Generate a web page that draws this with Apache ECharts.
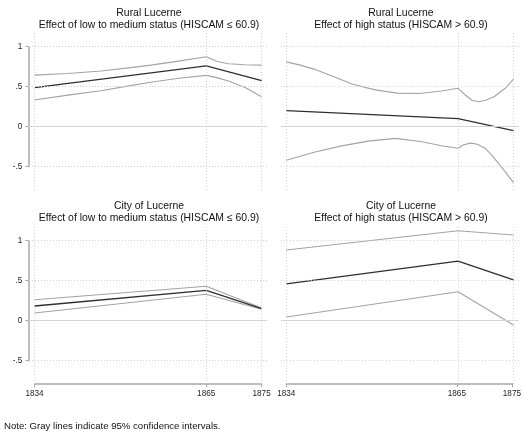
<!DOCTYPE html>
<html>
<head>
<meta charset="utf-8">
<script src="https://cdn.jsdelivr.net/npm/echarts@6/dist/echarts.min.js"></script>
<style>
  html, body { margin: 0; padding: 0; background: #fff; }
  #chart { width: 524px; height: 437px; }
</style>
</head>
<body>
<div id="chart"></div>
<script>
// year ticks shared by all panels
var xTicks = [1834, 1865, 1875];
var yTicks = [-0.5, 0, 0.5, 1];

// Rural Lucerne, low to medium status
var ruralLowEst = [[1834, 0.488], [1865, 0.759], [1875, 0.575]];
var ruralLowUpper = [[1834, 0.645], [1840, 0.665], [1846, 0.697], [1851, 0.735], [1855, 0.77], [1860, 0.82], [1865, 0.875], [1867, 0.815], [1869, 0.787], [1872, 0.774], [1875, 0.77]];
var ruralLowLower = [[1834, 0.334], [1840, 0.395], [1846, 0.45], [1851, 0.51], [1855, 0.555], [1860, 0.605], [1865, 0.642], [1867, 0.61], [1869, 0.572], [1872, 0.49], [1875, 0.375]];

// Rural Lucerne, high status
var ruralHighEst = [[1834, 0.2], [1865, 0.1], [1875, -0.05]];
var ruralHighUpper = [[1834, 0.81], [1836.5, 0.77], [1839, 0.72], [1842, 0.64], [1846, 0.53], [1850, 0.46], [1854, 0.42], [1858, 0.415], [1862, 0.446], [1865, 0.48], [1866.3, 0.396], [1867.5, 0.33], [1868.7, 0.312], [1870, 0.33], [1871.5, 0.375], [1873.5, 0.48], [1875, 0.595]];
var ruralHighLower = [[1834, -0.42], [1839, -0.32], [1844, -0.24], [1848.8, -0.18], [1853.7, -0.146], [1858.5, -0.188], [1862, -0.238], [1865, -0.27], [1866, -0.225], [1867.3, -0.205], [1868.5, -0.22], [1869.9, -0.27], [1871, -0.35], [1872.3, -0.458], [1873.7, -0.58], [1875, -0.7]];

// City of Lucerne, low to medium status
var cityLowEst = [[1834, 0.184], [1865, 0.38], [1875, 0.152]];
var cityLowUpper = [[1834, 0.2625], [1865, 0.43], [1875, 0.16]];
var cityLowLower = [[1834, 0.096], [1865, 0.33], [1875, 0.143]];

// City of Lucerne, high status
var cityHighEst = [[1834, 0.459], [1865, 0.746], [1875, 0.509]];
var cityHighUpper = [[1834, 0.884], [1865, 1.125], [1875, 1.071]];
var cityHighLower = [[1834, 0.046], [1865, 0.3625], [1875, -0.054]];

var titles = [
  'Rural Lucerne\nEffect of low to medium status (HISCAM \u2264 60.9)',
  'Rural Lucerne\nEffect of high status (HISCAM > 60.9)',
  'City of Lucerne\nEffect of low to medium status (HISCAM \u2264 60.9)',
  'City of Lucerne\nEffect of high status (HISCAM > 60.9)'
];
var note = 'Note: Gray lines indicate 95% confidence intervals.';

var font = 'Liberation Sans, Arial, sans-serif';
var ciColor = '#a3a3a3';
var estColor = '#2e2e2e';
var axisColor = '#a8a8a8';

// plot regions (px)
var grids = [
  { left: 29, right: 256.8, top: 33.1, bottom: 247.1 },
  { left: 280.8, right: 5, top: 33.1, bottom: 247.1 },
  { left: 29, right: 256.8, top: 227.1, bottom: 53.1 },
  { left: 280.8, right: 5, top: 227.1, bottom: 53.1 }
];
var panels = [
  [ruralLowEst, ruralLowUpper, ruralLowLower],
  [ruralHighEst, ruralHighUpper, ruralHighLower],
  [cityLowEst, cityLowUpper, cityLowLower],
  [cityHighEst, cityHighUpper, cityHighLower]
];
var titleX = [149, 401, 149, 401];
var titleY = [7.5, 7.5, 200, 200];

var xAxes = [], yAxes = [], series = [], titleList = [];

grids.forEach(function (g, i) {
  xAxes.push({ gridIndex: i, type: 'value', min: 1833, max: 1876, show: false });
  yAxes.push({ gridIndex: i, type: 'value', min: -0.79, max: 1.17, show: false });

  var gridLines = xTicks.map(function (x) { return { xAxis: x }; });
  yTicks.forEach(function (y) {
    if (y === 0) gridLines.push({ yAxis: y, lineStyle: { type: 'solid', color: '#d4d4d4' } });
    else gridLines.push({ yAxis: y });
  });

  series.push({
    type: 'line', xAxisIndex: i, yAxisIndex: i, data: [], silent: true, z: 1,
    markLine: {
      silent: true, symbol: 'none', animation: false,
      label: { show: false },
      lineStyle: { color: '#cfcfcf', type: [1, 2], width: 1 },
      data: gridLines
    }
  });

  var p = panels[i];
  [p[1], p[2]].forEach(function (d) {
    series.push({
      type: 'line', xAxisIndex: i, yAxisIndex: i, data: d, z: 2,
      showSymbol: false, silent: true, animation: false,
      lineStyle: { color: ciColor, width: 1.1 }
    });
  });
  series.push({
    type: 'line', xAxisIndex: i, yAxisIndex: i, data: p[0], z: 3,
    showSymbol: false, silent: true, animation: false,
    lineStyle: { color: estColor, width: 1.3 }
  });

  titleList.push({
    text: titles[i], left: titleX[i], top: titleY[i], textAlign: 'center', padding: 0,
    textStyle: { fontFamily: font, fontSize: 10.4, fontWeight: 'normal', color: '#111', lineHeight: 12 }
  });
});

titleList.push({
  text: note, left: 4, top: 421, padding: 0,
  textStyle: { fontFamily: font, fontSize: 9.6, fontWeight: 'normal', color: '#111' }
});

// y axes on the left column (line only spans the tick range)
var yLabel = function (v) { return v === 0 ? '0' : String(v).replace('0.', '.'); };
[[46.7, 270.3], [240.7, 76.3]].forEach(function (tb) {
  var gi = grids.length;
  grids.push({ left: 28.3, width: 1, top: tb[0], bottom: tb[1] });
  xAxes.push({ gridIndex: gi, type: 'value', show: false });
  yAxes.push({
    gridIndex: gi, type: 'value', min: -0.5, max: 1, interval: 0.5,
    axisLine: { show: true, lineStyle: { color: axisColor, width: 1.5 } },
    axisTick: { show: true, length: 3, lineStyle: { color: axisColor, width: 1 } },
    axisLabel: { formatter: yLabel, fontFamily: font, fontSize: 8.2, color: '#222', margin: 6 },
    splitLine: { show: false }
  });
});

// x axes under the bottom row
[[34.5, 262.4], [286.3, 10.6]].forEach(function (lr) {
  var gi = grids.length;
  grids.push({ left: lr[0], right: lr[1], bottom: 53.7, height: 1 });
  yAxes.push({ gridIndex: gi, type: 'value', show: false });
  xAxes.push({
    gridIndex: gi, type: 'value', min: 1834, max: 1875,
    axisLine: { show: true, lineStyle: { color: axisColor, width: 1.5 } },
    axisTick: { show: true, length: 4, customValues: xTicks, lineStyle: { color: axisColor, width: 1 } },
    axisLabel: { customValues: xTicks, formatter: function (v) { return String(v); }, fontFamily: font, fontSize: 8.2, color: '#222', margin: 6 },
    splitLine: { show: false }
  });
});

var chart = echarts.init(document.getElementById('chart'), null, { renderer: 'canvas' });
chart.setOption({
  animation: false,
  backgroundColor: '#fff',
  title: titleList,
  grid: grids,
  xAxis: xAxes,
  yAxis: yAxes,
  series: series
});
</script>
</body>
</html>
